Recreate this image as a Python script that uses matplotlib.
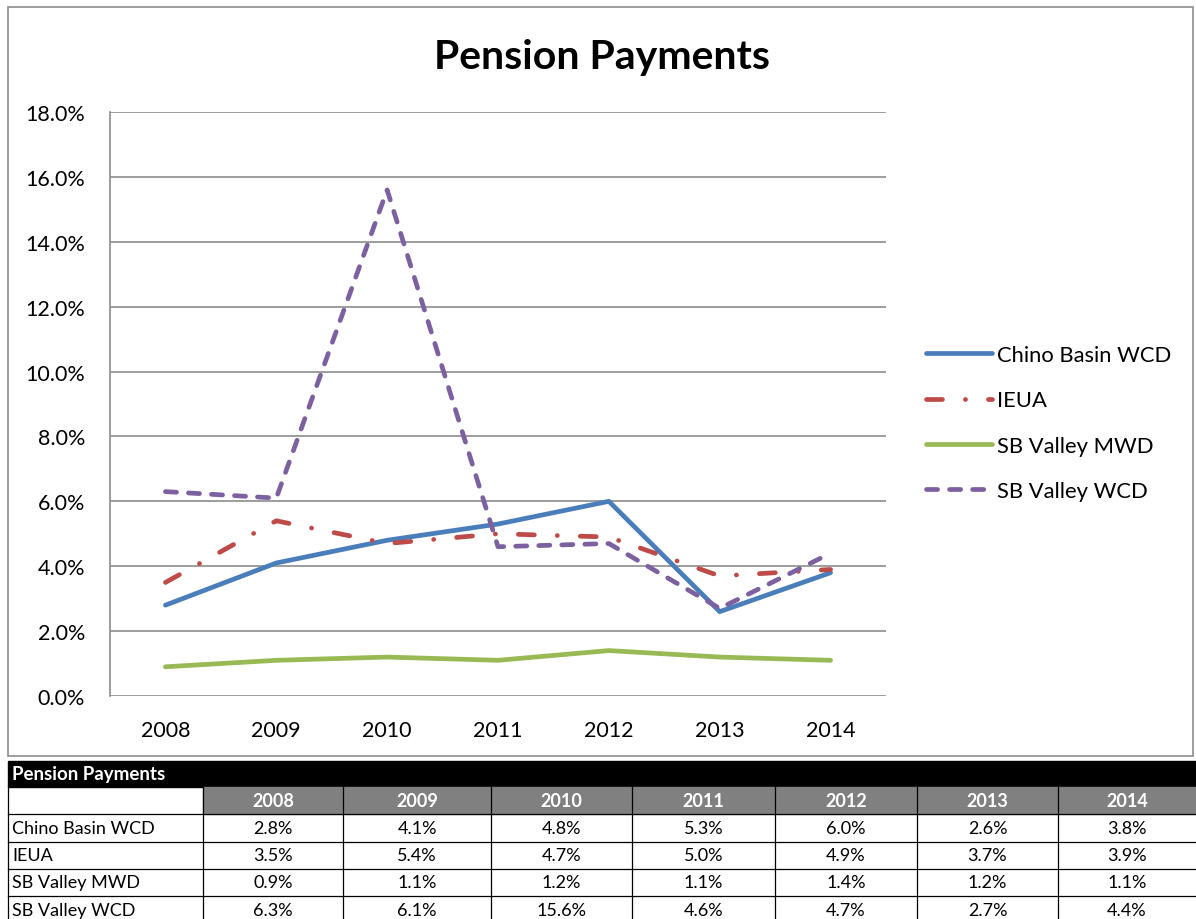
import matplotlib.pyplot as plt
from matplotlib.patches import Rectangle
from matplotlib.ticker import FuncFormatter

plt.rcParams['font.family'] = ['Lato', 'DejaVu Sans']
plt.rcParams['lines.scale_dashes'] = False

W, H = 1196, 920

years = ['2008', '2009', '2010', '2011', '2012', '2013', '2014']
chino = [2.8, 4.1, 4.8, 5.3, 6.0, 2.6, 3.8]
ieua = [3.5, 5.4, 4.7, 5.0, 4.9, 3.7, 3.9]
sb_mwd = [0.9, 1.1, 1.2, 1.1, 1.4, 1.2, 1.1]
sb_wcd = [6.3, 6.1, 15.6, 4.6, 4.7, 2.7, 4.4]
names = ['Chino Basin WCD', 'IEUA', 'SB Valley MWD', 'SB Valley WCD']
series = [chino, ieua, sb_mwd, sb_wcd]
title = 'Pension Payments'

fig = plt.figure(figsize=(W / 100, H / 100), dpi=100)

# overlay axes in pixel coords for frame and table
bg = fig.add_axes([0, 0, 1, 1])
bg.set_xlim(0, W)
bg.set_ylim(H, 0)
bg.axis('off')
bg.add_patch(Rectangle((8, 8), 1185, 749, fill=False, ec='#8c8c8c', lw=1.2))

# chart
ax = fig.add_axes([110 / W, (H - 697) / H, 776 / W, 584 / H])
x = range(len(years))
lw = 3.4
ax.plot(x, chino, color='#4A7EBB', lw=lw, solid_capstyle='round', label=names[0])
ax.plot(x, ieua, color='#BE4B48', lw=lw, dash_capstyle='round',
        dashes=(11.5, 16.5, 0.1, 16.5), label=names[1])
ax.plot(x, sb_mwd, color='#98B954', lw=lw, solid_capstyle='round', label=names[2])
ax.plot(x, sb_wcd, color='#7D60A0', lw=lw, dash_capstyle='round',
        dashes=(8, 8.6), label=names[3])

ax.set_xlim(-0.5, len(years) - 0.5)
ax.set_ylim(0, 18)
ax.set_yticks(range(0, 19, 2))
ax.yaxis.set_major_formatter(FuncFormatter(lambda v, p: f'{v:.1f}%'))
ax.set_xticks(list(x))
ax.set_xticklabels(years)
ax.tick_params(length=0, labelsize=15.5)
ax.tick_params(axis='x', pad=17)
ax.tick_params(axis='y', pad=18)
ax.grid(axis='y', color='#8c8c8c', lw=1.2)
ax.set_axisbelow(True)
for s in ['top', 'right', 'bottom']:
    ax.spines[s].set_visible(False)
ax.spines['left'].set_color('#8c8c8c')
ax.spines['left'].set_linewidth(1.2)

fig.text(602 / W, 1 - 57 / H, title, ha='center', va='center',
         fontsize=29.5, fontweight='bold')

leg = fig.legend(loc='upper left', bbox_to_anchor=(906 / W, 1 - 326 / H),
                 frameon=False, fontsize=15.8, handlelength=3.0,
                 handletextpad=0.23, labelspacing=1.16)

# table
fs_t = 13
bg.add_patch(Rectangle((8, 762), W - 8, 26, color='black'))
bg.text(12, 775, title, color='white', fontsize=13.5, fontweight='bold',
        va='center', ha='left')
col_edges = [8, 203, 343, 491, 632, 775, 917, 1058, 1196]
row_edges = [788, 815, 843, 870, 897, 925]
bg.add_patch(Rectangle((203, 788), W - 203, 27, color='#808080'))
for i, yr in enumerate(years):
    cx = (col_edges[i + 1] + col_edges[i + 2]) / 2
    bg.text(cx, 801.5, yr, color='white', fontsize=fs_t, fontweight='bold',
            ha='center', va='center')
for r, (nm, vals) in enumerate(zip(names, series)):
    y0, y1 = row_edges[r + 1], row_edges[r + 2]
    cy = (y0 + y1) / 2
    bg.text(12, cy, nm, fontsize=fs_t, ha='left', va='center')
    for i, v in enumerate(vals):
        cx = (col_edges[i + 1] + col_edges[i + 2]) / 2
        bg.text(cx, cy, f'{v:.1f}%', fontsize=fs_t, ha='center', va='center')
# grid lines of table
for yv in row_edges[1:5]:
    bg.plot([8, W], [yv, yv], color='black', lw=0.9)
for xv in col_edges[:-1]:
    bg.plot([xv, xv], [788, H], color='black', lw=0.9)

fig.savefig('out.png', dpi=100)
